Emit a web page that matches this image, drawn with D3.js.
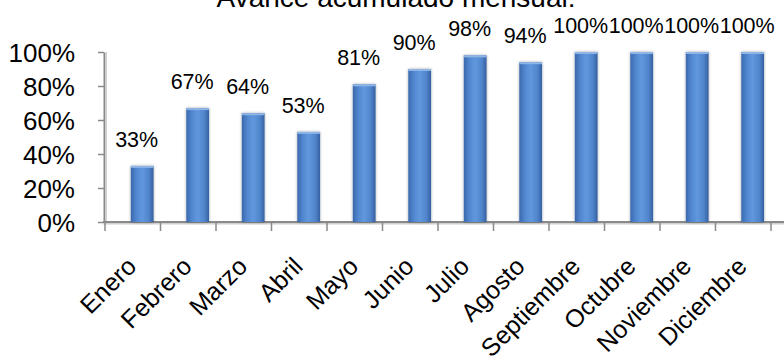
<!DOCTYPE html>
<html>
<head>
<meta charset="utf-8">
<script src="https://cdn.jsdelivr.net/npm/d3@7/dist/d3.min.js"></script>
<style>
  html, body { margin: 0; padding: 0; background: #fff; }
  svg { display: block; }
  text { font-family: "Liberation Sans", Arial, sans-serif; fill: #000; }
</style>
</head>
<body>
<svg id="chart" width="784" height="363"></svg>
<script>
const title = "Avance acumulado mensual:";
const months = ["Enero","Febrero","Marzo","Abril","Mayo","Junio","Julio","Agosto","Septiembre","Octubre","Noviembre","Diciembre"];
const avance = [0.33, 0.67, 0.64, 0.53, 0.81, 0.90, 0.98, 0.94, 1.00, 1.00, 1.00, 1.00];
const yTicks = [0, 0.2, 0.4, 0.6, 0.8, 1.0];

const svg = d3.select("#chart");
const W = 784, H = 363;

const x = d3.scaleBand().domain(months).range([105, 771]).padding(0);
const y = d3.scaleLinear().domain([0, 1]).range([222, 52]);
const pct = d3.format(".0%");

const defs = svg.append("defs");
const grad = defs.append("linearGradient").attr("id", "barGrad")
  .attr("x1", "0%").attr("x2", "100%").attr("y1", "0%").attr("y2", "0%");
grad.append("stop").attr("offset", "0%").attr("stop-color", "#3a68ad");
grad.append("stop").attr("offset", "25%").attr("stop-color", "#5288d0");
grad.append("stop").attr("offset", "50%").attr("stop-color", "#6198dd");
grad.append("stop").attr("offset", "80%").attr("stop-color", "#4f84cb");
grad.append("stop").attr("offset", "100%").attr("stop-color", "#36609f");

const shadow = defs.append("filter").attr("id", "shadow")
  .attr("x", "-30%").attr("y", "-10%").attr("width", "160%").attr("height", "120%");
shadow.append("feGaussianBlur").attr("in", "SourceAlpha").attr("stdDeviation", 1.5).attr("result", "b");
shadow.append("feOffset").attr("in", "b").attr("dx", 0).attr("dy", 0).attr("result", "o");
shadow.append("feComponentTransfer").attr("in", "o").attr("result", "t")
  .append("feFuncA").attr("type", "linear").attr("slope", 0.35);
const m = shadow.append("feMerge");
m.append("feMergeNode").attr("in", "t");
m.append("feMergeNode").attr("in", "SourceGraphic");

// Title (clipped at the top edge as in the reference)
svg.append("text")
  .attr("x", 396).attr("y", 7)
  .attr("text-anchor", "middle")
  .style("font-size", "28px")
  .text(title);

const bw = x.bandwidth();

// y axis
const yAxis = d3.axisLeft(y).tickValues(yTicks).tickFormat(pct).tickSize(6).tickSizeOuter(0);
const gy = svg.append("g").attr("transform", "translate(104,0)").call(yAxis);
gy.select(".domain").attr("stroke", "#8a8a8a").attr("stroke-width", 2);
gy.selectAll(".tick line").attr("stroke", "#8a8a8a").attr("stroke-width", 1.5);
gy.selectAll(".tick text").attr("x", -29).attr("dy", "0.35em")
  .style("font-size", "26px").style("font-family", "'Liberation Sans', Arial, sans-serif").attr("fill", "#000");
svg.append("line").attr("x1", 106).attr("x2", 106).attr("y1", y(1)).attr("y2", y(0))
  .attr("stroke", "#cfcfcf").attr("stroke-width", 2);

// x axis
const xAxis = d3.axisBottom(x).tickSize(0).tickFormat("");
const gx = svg.append("g").attr("transform", `translate(0,${y(0)})`).call(xAxis);
gx.select(".domain").remove();
svg.append("line").attr("x1", 103).attr("x2", W).attr("y1", y(0) + 1.5).attr("y2", y(0) + 1.5)
  .attr("stroke", "#d0d0d0").attr("stroke-width", 2);
svg.append("line").attr("x1", 103).attr("x2", W).attr("y1", y(0)).attr("y2", y(0))
  .attr("stroke", "#8a8a8a").attr("stroke-width", 2);
const boundaries = months.map(d => x(d)).concat([x(months[months.length - 1]) + bw]);
svg.append("g").selectAll("line").data(boundaries).join("line")
  .attr("x1", d => d).attr("x2", d => d)
  .attr("y1", y(0)).attr("y2", y(0) + 9)
  .attr("stroke", "#8a8a8a").attr("stroke-width", 1.5);

// x labels
svg.append("g").selectAll("text").data(months).join("text")
  .attr("text-anchor", "end")
  .attr("transform", d => `translate(${x(d) + bw / 2 + 5},268) rotate(-45)`)
  .style("font-size", "25px")
  .text(d => d);

// Bars
const barOff = bw * 0.465, barW = bw * 0.41;
svg.append("g").selectAll("rect").data(avance).join("rect")
  .attr("x", (d, i) => x(months[i]) + barOff)
  .attr("width", barW)
  .attr("y", d => y(d))
  .attr("height", d => y(0) - y(d))
  .attr("fill", "url(#barGrad)")
  .attr("filter", "url(#shadow)");
svg.append("g").selectAll("rect").data(avance).join("rect")
  .attr("x", (d, i) => x(months[i]) + barOff)
  .attr("width", barW)
  .attr("y", d => y(d))
  .attr("height", 2)
  .attr("fill", "#8fb4e6");

// Data labels
svg.append("g").selectAll("text").data(avance).join("text")
  .attr("x", (d, i) => x(months[i]) + barOff + barW / 2 - 5.5)
  .attr("y", d => y(d) - 19)
  .attr("text-anchor", "middle")
  .style("font-size", "21.5px")
  .text(d => pct(d));
</script>
</body>
</html>
